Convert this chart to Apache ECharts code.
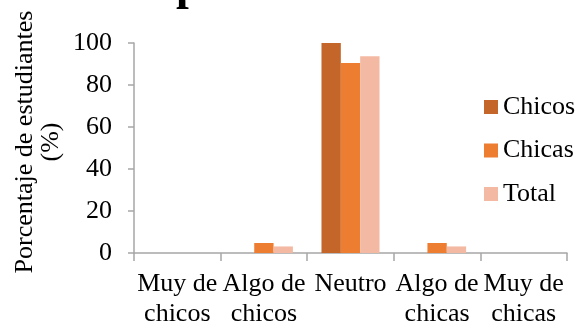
<!DOCTYPE html>
<html>
<head>
<meta charset="utf-8">
<script src="https://cdn.jsdelivr.net/npm/echarts@6/dist/echarts.min.js"></script>
<style>
  html, body { margin: 0; padding: 0; background: #fff; }
  #chart { width: 579px; height: 329px; }
</style>
</head>
<body>
<div id="chart"></div>
<script>
// Survey answers: percentage of students per response
const categories = ['Muy de\nchicos', 'Algo de\nchicos', 'Neutro', 'Algo de\nchicas', 'Muy de\nchicas'];
const chicos = [0, 0, 100, 0, 0];
const chicas = [0, 4.76, 90.48, 4.76, 0];
const total = [0, 3.13, 93.75, 3.13, 0];
const yTicks = { min: 0, max: 100, interval: 20 };
const yTitle = 'Porcentaje de estudiantes\n(%)';

const FONT = '"Liberation Serif", "Times New Roman", serif';
const AXIS = '#a6a6a6';

const chart = echarts.init(document.getElementById('chart'), null, { renderer: 'canvas' });

function bar(name, data, color) {
  return {
    name: name,
    type: 'bar',
    data: data,
    barGap: '0%',
    barCategoryGap: '33%',
    itemStyle: { color: color },
    emphasis: { disabled: true }
  };
}

chart.setOption({
  animation: false,
  backgroundColor: '#ffffff',
  textStyle: { fontFamily: FONT },
  graphic: [
    {
      // title glyph running off the top edge
      type: 'text',
      left: 176,
      top: -36,
      style: { text: 'p', font: 'bold 46px ' + FONT, fill: '#000' }
    },
    {
      // rotated y-axis title
      type: 'text',
      x: 38,
      y: 142,
      rotation: Math.PI / 2,
      style: {
        text: yTitle,
        font: '26px ' + FONT,
        lineHeight: 26,
        fill: '#000',
        align: 'center',
        verticalAlign: 'middle'
      }
    }
  ],
  grid: { left: 134, right: 12, top: 43, bottom: 76, containLabel: false },
  legend: {
    orient: 'vertical',
    left: 484,
    top: 94,
    padding: 0,
    itemWidth: 14,
    itemHeight: 14,
    itemGap: 17.5,
    icon: 'rect',
    textStyle: { fontFamily: FONT, fontSize: 26, color: '#000', lineHeight: 26 },
    data: ['Chicos', 'Chicas', 'Total']
  },
  xAxis: {
    type: 'category',
    data: categories,
    axisLine: { lineStyle: { color: AXIS, width: 1.5 } },
    axisTick: { show: true, length: 8, lineStyle: { color: AXIS, width: 1.5 } },
    axisLabel: {
      interval: 0,
      margin: 16,
      fontFamily: FONT,
      fontSize: 26,
      lineHeight: 30,
      color: '#000'
    }
  },
  yAxis: {
    type: 'value',
    min: yTicks.min,
    max: yTicks.max,
    interval: yTicks.interval,
    axisLine: { show: true, lineStyle: { color: AXIS, width: 1.5 } },
    axisTick: { show: true, length: 6, lineStyle: { color: AXIS, width: 1.5 } },
    splitLine: { show: false },
    axisLabel: { margin: 22, fontFamily: FONT, fontSize: 26, color: '#000' }
  },
  series: [
    bar('Chicos', chicos, '#c4652a'),
    bar('Chicas', chicas, '#ed7d31'),
    bar('Total', total, '#f4b9a3')
  ]
});
</script>
</body>
</html>
